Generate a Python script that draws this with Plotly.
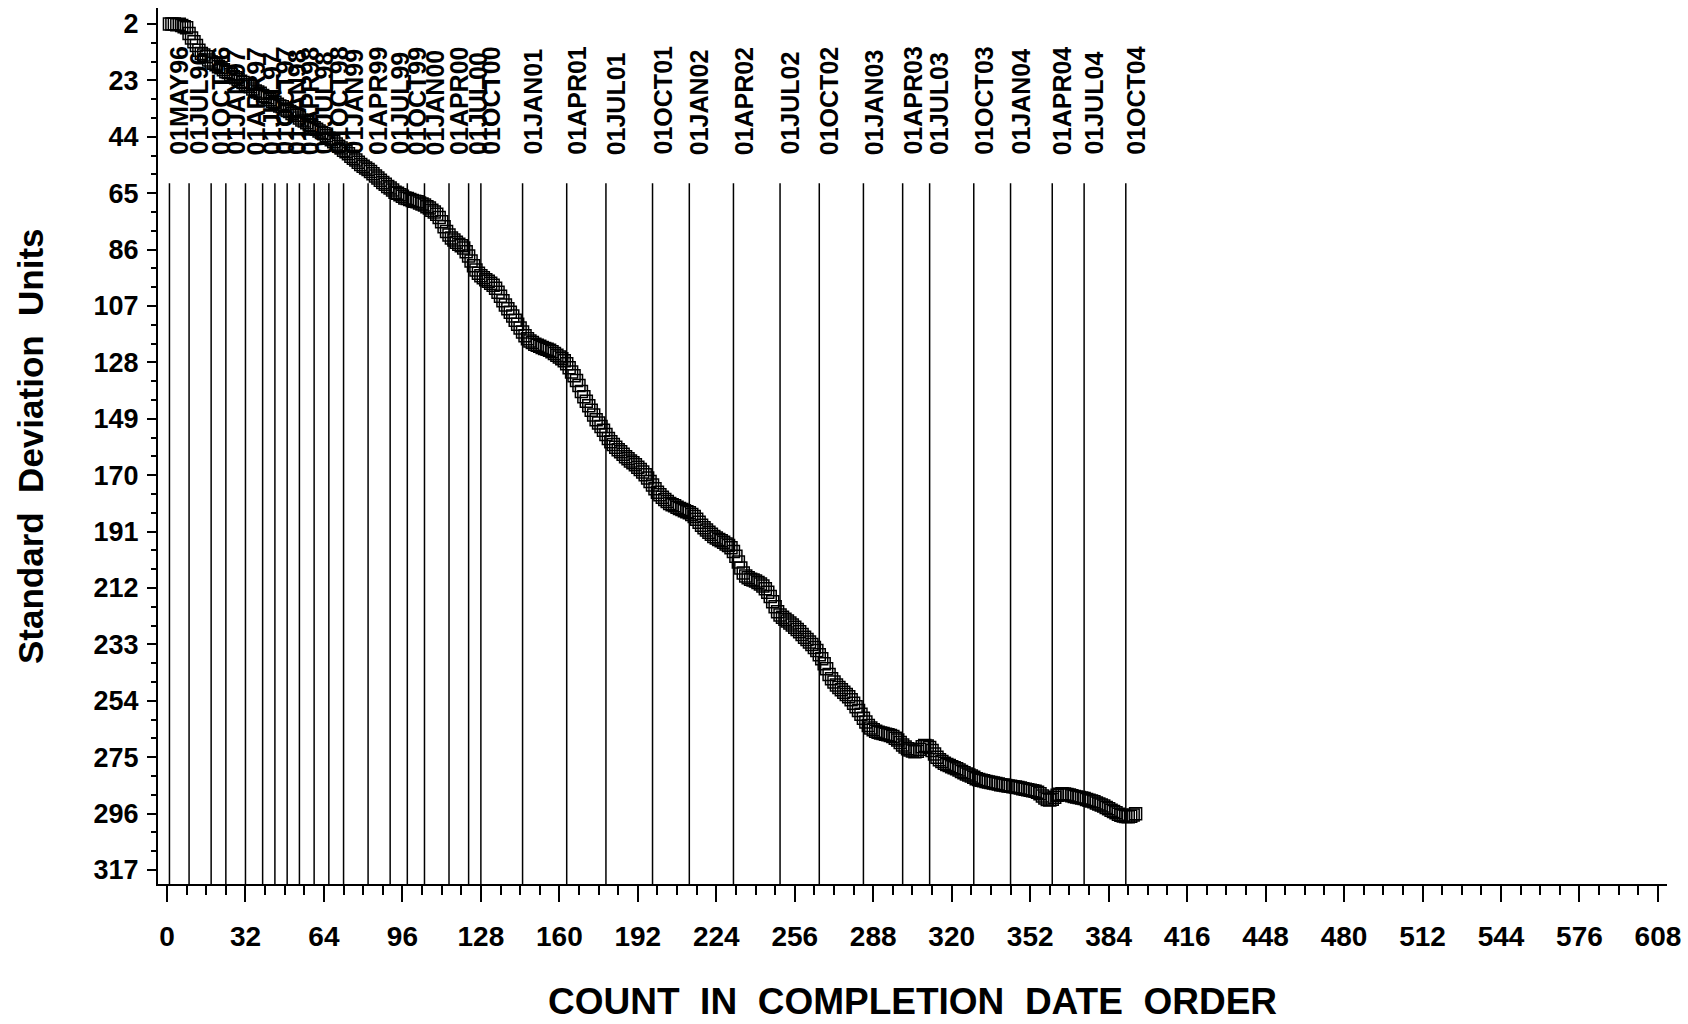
import plotly.graph_objects as go

# ---- data ----
date_labels = ["01MAY96", "01JUL96", "01OCT96", "01JAN97", "01APR97", "01JUL97", "01OCT97",
               "01JAN98", "01APR98", "01JUL98", "01OCT98", "01JAN99", "01APR99", "01JUL99",
               "01OCT99", "01JAN00", "01APR00", "01JUL00", "01OCT00", "01JAN01", "01APR01",
               "01JUL01", "01OCT01", "01JAN02", "01APR02", "01JUL02", "01OCT02", "01JAN03",
               "01APR03", "01JUL03", "01OCT03", "01JAN04", "01APR04", "01JUL04", "01OCT04"]
date_counts = [1, 9, 18, 24, 32, 39, 44, 49, 54, 60, 66, 72, 82, 91, 98, 105, 115, 123, 128,
               145, 163, 179, 198, 213, 231, 250, 266, 284, 300, 311, 329, 344, 361, 374, 391]

sd_units = [
    2.0, 2.0, 2.0, 2.3, 2.1, 2.6, 3.0, 3.4, 5.5, 7.2,
    8.6, 10.0, 11.8, 13.0, 13.5, 14.2, 15.4, 16.1, 16.6, 17.2,
    17.9, 18.3, 19.0, 19.8, 20.1, 20.9, 21.6, 22.0, 22.7, 23.3,
    23.8, 24.5, 25.1, 25.4, 26.2, 26.9, 27.3, 27.8, 28.6, 29.1,
    29.5, 30.2, 30.8, 31.1, 31.9, 32.5, 32.8, 33.6, 34.2, 34.6,
    35.3, 35.9, 36.2, 37.0, 37.7, 38.1, 38.8, 39.5, 39.9, 40.6,
    41.2, 41.8, 42.4, 42.9, 43.6, 44.5, 45.1, 45.8, 46.7, 47.5,
    48.2, 49.0, 49.6, 50.3, 51.2, 52.0, 52.6, 53.5, 54.3, 55.0,
    55.6, 56.2, 56.9, 57.8, 58.6, 59.3, 60.2, 61.0, 61.7, 62.5,
    63.1, 63.8, 64.6, 65.0, 65.6, 66.1, 66.8, 67.0, 67.3, 67.7,
    68.0, 68.2, 68.6, 69.0, 69.4, 70.0, 70.5, 71.3, 72.0, 72.8,
    74.0, 75.6, 77.5, 79.3, 80.6, 81.7, 82.4, 83.3, 84.0, 84.6,
    85.4, 86.8, 88.4, 90.2, 92.0, 93.6, 94.8, 95.7, 96.5, 97.2,
    97.8, 98.5, 99.3, 100.4, 101.9, 103.4, 105.0, 106.6, 108.0, 109.3,
    110.7, 112.3, 113.8, 115.2, 116.7, 118.1, 119.2, 120.0, 120.6, 121.2,
    121.6, 122.0, 122.4, 122.8, 123.1, 123.5, 124.0, 124.7, 125.3, 126.0,
    126.6, 127.4, 128.5, 130.0, 131.6, 133.0, 134.7, 136.6, 138.8, 140.8,
    142.5, 144.1, 145.8, 147.6, 149.3, 150.6, 151.9, 153.3, 154.8, 156.3,
    157.5, 158.6, 159.6, 160.5, 161.3, 162.2, 163.1, 163.9, 164.7, 165.4,
    166.1, 167.0, 167.9, 168.8, 169.8, 171.0, 172.3, 173.6, 175.0, 176.3,
    177.3, 178.2, 179.0, 179.8, 180.5, 181.0, 181.4, 181.9, 182.4, 182.8,
    183.2, 183.6, 184.0, 184.6, 185.4, 186.4, 187.5, 188.6, 189.6, 190.4,
    191.2, 192.0, 192.8, 193.4, 193.9, 194.4, 195.0, 195.6, 196.2, 197.0,
    198.4, 200.2, 202.3, 204.5, 206.4, 207.5, 208.2, 208.7, 209.0, 209.4,
    209.9, 210.5, 211.2, 212.3, 213.6, 215.2, 217.1, 219.0, 220.8, 222.0,
    222.9, 223.6, 224.3, 225.0, 225.8, 226.6, 227.4, 228.3, 229.3, 230.3,
    231.2, 232.1, 233.0, 234.1, 235.3, 236.8, 238.3, 240.2, 242.1, 244.2,
    245.8, 247.0, 248.1, 249.0, 249.9, 250.8, 251.6, 252.5, 253.6, 254.9,
    256.2, 257.6, 259.0, 260.5, 261.9, 263.2, 264.1, 264.8, 265.3, 265.7,
    266.0, 266.2, 266.4, 266.6, 266.9, 267.3, 267.9, 268.6, 269.5, 270.4,
    271.2, 271.8, 272.3, 272.7, 273.0, 272.8, 272.0, 271.1, 270.6, 270.8,
    271.4, 272.5, 273.8, 275.0, 275.9, 276.6, 277.2, 277.7, 278.1, 278.5,
    278.9, 279.3, 279.8, 280.3, 280.8, 281.2, 281.6, 282.0, 282.5, 283.0,
    283.3, 283.6, 283.8, 284.0, 284.2, 284.4, 284.6, 284.8, 285.0, 285.2,
    285.3, 285.5, 285.7, 285.8, 286.0, 286.1, 286.3, 286.5, 286.7, 286.9,
    287.1, 287.3, 287.5, 287.7, 288.0, 288.6, 289.4, 290.2, 290.7, 290.9,
    290.6, 289.9, 289.2, 288.8, 288.6, 288.7, 288.9, 289.1, 289.3, 289.6,
    289.8, 290.0, 290.2, 290.4, 290.7, 291.0, 291.3, 291.6, 292.0, 292.4,
    292.8, 293.2, 293.7, 294.2, 294.7, 295.2, 295.7, 296.2, 296.6, 296.9,
    297.1, 297.2, 297.0, 296.5, 296.0,
]
counts = list(range(1, len(sd_units) + 1))

x_title = "COUNT  IN  COMPLETION  DATE  ORDER"
y_title = "Standard  Deviation  Units"

FONT = "Liberation Sans, Arial, sans-serif"

fig = go.Figure()
fig.add_trace(go.Scatter(
    x=counts, y=sd_units, mode="markers",
    marker=dict(symbol="square-open", size=12, color="black", line=dict(width=1.5, color="black")),
    showlegend=False, hoverinfo="x+y",
))

for d, c in zip(date_labels, date_counts):
    fig.add_shape(type="line", xref="x", yref="paper", x0=c, x1=c, y0=0, y1=0.800,
                  line=dict(color="black", width=1.5))
    fig.add_annotation(x=c, xref="x", y=0.830, yref="paper", text=d, textangle=-90,
                       showarrow=False, xanchor="center", yanchor="bottom", xshift=10,
                       font=dict(family=FONT, size=25, color="black", weight="bold"))

fig.add_annotation(text=x_title, xref="paper", yref="paper", x=0.5, y=-0.1594,
                   xanchor="center", yanchor="bottom", showarrow=False,
                   font=dict(family=FONT, size=37, color="black", weight="bold"))
fig.add_annotation(text=y_title, xref="paper", yref="paper", x=-0.0848, y=0.5,
                   xanchor="center", yanchor="middle", textangle=-90, showarrow=False,
                   font=dict(family=FONT, size=35, color="black", weight="bold"))

fig.update_layout(
    width=1688, height=1024,
    margin=dict(l=158, r=21, t=8, b=140, autoexpand=False),
    paper_bgcolor="white", plot_bgcolor="white",
    font=dict(family=FONT, color="black", weight="bold"),
    xaxis=dict(range=[-3.67, 611.7], tick0=0, dtick=32, showgrid=False, zeroline=False,
               showline=True, linecolor="black", linewidth=2,
               ticks="outside", ticklen=16, tickwidth=2, tickcolor="black",
               ticklabelstandoff=10,
               tickfont=dict(family=FONT, size=28, color="black", weight="bold"),
               minor=dict(dtick=8, tick0=0, ticks="outside", ticklen=9, tickwidth=2,
                          tickcolor="black", showgrid=False)),
    yaxis=dict(range=[322.2, -3.96], tick0=2, dtick=21, showgrid=False, zeroline=False,
               showline=True, linecolor="black", linewidth=2,
               ticks="outside", ticklen=9, tickwidth=2, tickcolor="black",
               ticklabelstandoff=3,
               tickfont=dict(family=FONT, size=27, color="black", weight="bold"),
               minor=dict(dtick=7, tick0=2, ticks="outside", ticklen=5, tickwidth=2,
                          tickcolor="black", showgrid=False)),
)

fig.write_html("out.html", config={"displayModeBar": False},
               post_script="document.body.style.margin='0';")
